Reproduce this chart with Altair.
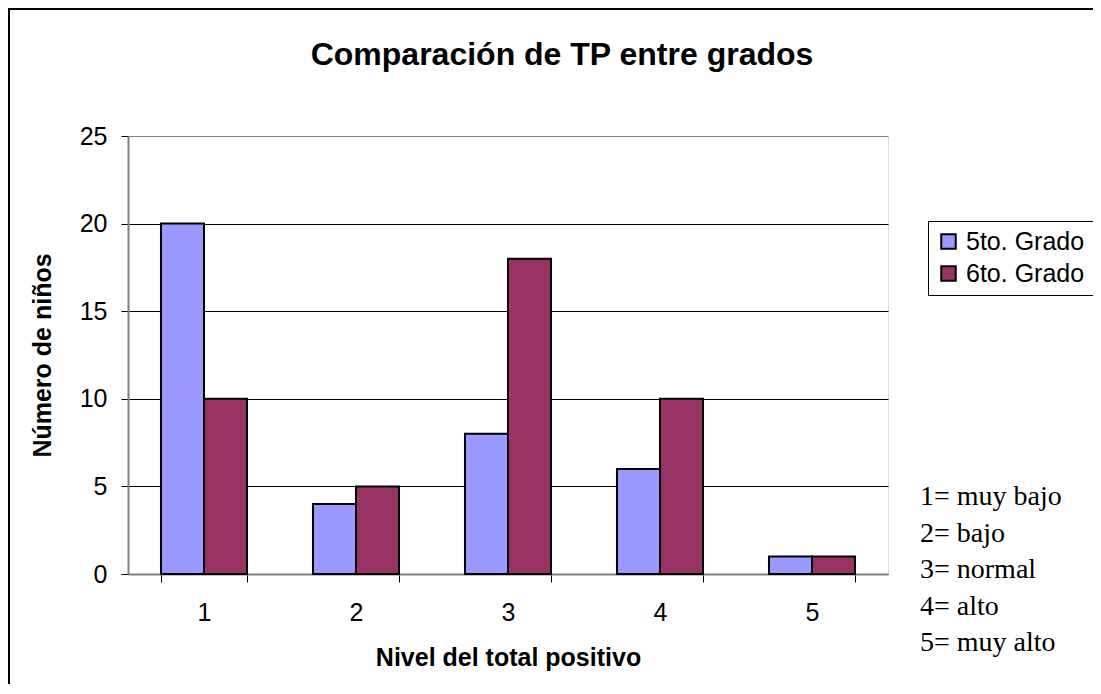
import altair as alt
import pandas as pd

niveles = ["1", "2", "3", "4", "5"]
grados = ["5to. Grado", "6to. Grado"]
quinto = [20, 4, 8, 6, 1]
sexto = [10, 5, 18, 10, 1]
y_ticks = [0, 5, 10, 15, 20, 25]
colores = ["#9999FF", "#993366"]
notas = ["1= muy bajo", "2= bajo", "3= normal", "4= alto", "5= muy alto"]
titulo = "Comparación de TP entre grados"

rows = []
for n, a, b in zip(niveles, quinto, sexto):
    rows.append({"Nivel": n, "Grado": grados[0], "Valor": a})
    rows.append({"Nivel": n, "Grado": grados[1], "Valor": b})
df = pd.DataFrame(rows)

SANS = "Liberation Sans"
SERIF = "Liberation Serif"

bars = alt.Chart(df).mark_bar(stroke="black", strokeWidth=2).encode(
    x=alt.X(
        "Nivel:N",
        sort=niveles,
        scale=alt.Scale(paddingInner=0.434, paddingOuter=0.217),
        axis=alt.Axis(
            title="Nivel del total positivo",
            labelAngle=0,
            tickBand="extent",
            tickColor="black",
            tickSize=8,
            domainColor="#808080",
            domainWidth=2,
            labelPadding=18,
            labelFont=SANS,
            labelFontSize=25,
            labelColor="black",
            titleFont=SANS,
            titleFontSize=25,
            titleFontWeight="bold",
            titleColor="black",
            titlePadding=20,
            grid=False,
        ),
    ),
    xOffset=alt.XOffset("Grado:N", sort=grados),
    y=alt.Y(
        "Valor:Q",
        scale=alt.Scale(domain=[0, 25], nice=False),
        axis=alt.Axis(
            title="Número de niños",
            values=y_ticks,
            tickColor="black",
            tickSize=7,
            domainColor="#808080",
            domainWidth=2,
            labelPadding=14,
            labelFont=SANS,
            labelFontSize=25,
            labelColor="black",
            titleFont=SANS,
            titleFontSize=25,
            titleFontWeight="bold",
            titleColor="black",
            titlePadding=24,
            grid=True,
            gridColor={
                "condition": {"test": "datum.value == 25", "value": "#808080"},
                "value": "black",
            },
            gridWidth=1,
        ),
    ),
    color=alt.Color(
        "Grado:N",
        scale=alt.Scale(domain=grados, range=colores),
        legend=alt.Legend(
            title=None,
            orient="none",
            legendX=800,
            legendY=85,
            strokeColor="black",
            fillColor="white",
            padding=8,
            symbolType="square",
            symbolSize=210,
            symbolStrokeColor="black",
            symbolStrokeWidth=2,
            symbolOpacity=1,
            labelFont=SANS,
            labelFontSize=25,
            labelColor="black",
            rowPadding=6,
            labelOffset=5,
        ),
    ),
)

notes_df = pd.DataFrame({"t": ["\n".join(notas)]})
notes = alt.Chart(notes_df).mark_text(
    font=SERIF,
    fontSize=28,
    align="left",
    baseline="top",
    lineBreak="\n",
    lineHeight=36.5,
    color="black",
).encode(text="t:N", x=alt.value(792), y=alt.value(347))

title_df = pd.DataFrame({"t": [titulo]})
title = alt.Chart(title_df).mark_text(
    font=SANS,
    fontSize=32,
    fontWeight="bold",
    align="center",
    baseline="middle",
    color="black",
).encode(text="t:N", x=alt.value(434), y=alt.value(-81))

frame_df = pd.DataFrame({"k": [0]})
frame = alt.Chart(frame_df).mark_rect(
    filled=False, stroke="black", strokeWidth=2
).encode(
    x=alt.value(-119), x2=alt.value(1300), y=alt.value(-127), y2=alt.value(900)
)

chart = alt.layer(bars, notes, title, frame).properties(
    width=760,
    height=438,
    autosize=alt.AutoSizeParams(type="none"),
    padding={"left": 120, "top": 128, "right": 205, "bottom": 110},
).configure_view(
    fill="#C0C0C0", stroke="#808080", strokeWidth=2
).configure(background="white")

chart.save("out.html", embed_options={"renderer": "svg", "actions": False})
